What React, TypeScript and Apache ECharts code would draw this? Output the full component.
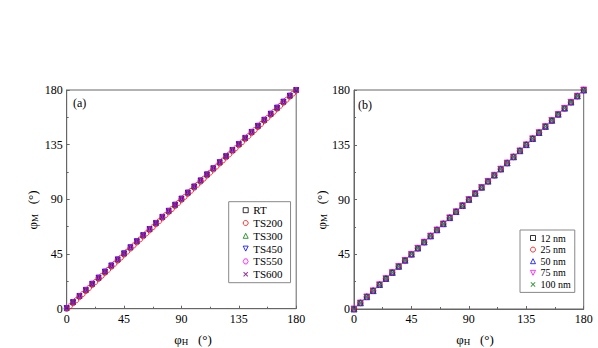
import React, { useEffect, useRef } from "react";
import * as echarts from "echarts";

// ---------- data ----------
const phiH5 = [0, 5, 10, 15, 20, 25, 30, 35, 40, 45, 50, 55, 60, 65, 70, 75, 80, 85, 90, 95, 100, 105, 110, 115, 120, 125, 130, 135, 140, 145, 150, 155, 160, 165, 170, 175, 180];
const phiH25 = [0, 2.5, 5, 7.5, 10, 12.5, 15, 17.5, 20, 22.5, 25, 27.5, 30, 32.5, 35, 37.5, 40, 42.5, 45, 47.5, 50, 52.5, 55, 57.5, 60, 62.5, 65, 67.5, 70, 72.5, 75, 77.5, 80, 82.5, 85, 87.5, 90, 92.5, 95, 97.5, 100, 102.5, 105, 107.5, 110, 112.5, 115, 117.5, 120, 122.5, 125, 127.5, 130, 132.5, 135, 137.5, 140, 142.5, 145, 147.5, 150, 152.5, 155, 157.5, 160, 162.5, 165, 167.5, 170, 172.5, 175, 177.5, 180];

// panel (a)
const RT = [0.5, 5.3, 10.3, 15.3, 20.4, 25.4, 30.4, 35.4, 40.4, 45.4, 50.4, 55.4, 60.4, 65.4, 70.4, 75.4, 80.4, 85.4, 90.4, 95.4, 100.4, 105.4, 110.4, 115.4, 120.4, 125.4, 130.4, 135.4, 140.4, 145.4, 150.4, 155.4, 160.3, 165.3, 170.3, 175.3, 180];
const TS200 = [0, 2.0, 4.5, 7.0, 9.5, 12.0, 14.5, 17.0, 19.5, 22.0, 24.5, 27.0, 29.5, 32.0, 34.5, 37.0, 39.5, 42.0, 44.5, 47.0, 49.5, 52.0, 54.5, 57.0, 59.5, 62.0, 64.5, 67.0, 69.5, 72.0, 74.5, 77.0, 79.5, 82.0, 84.5, 87.0, 89.5, 92.0, 94.5, 97.0, 99.5, 102.0, 104.5, 107.0, 109.5, 112.0, 114.5, 117.0, 119.5, 122.0, 124.5, 127.0, 129.5, 132.0, 134.5, 137.0, 139.5, 142.0, 144.5, 147.0, 149.5, 152.0, 154.5, 157.0, 159.5, 162.0, 164.5, 167.0, 169.5, 172.0, 174.5, 177.0, 179.5];
const TS300 = [0.4, 5.4, 10.4, 15.4, 20.5, 25.5, 30.5, 35.5, 40.5, 45.5, 50.5, 55.5, 60.5, 65.5, 70.5, 75.5, 80.5, 85.5, 90.5, 95.5, 100.5, 105.5, 110.5, 115.5, 120.5, 125.5, 130.5, 135.5, 140.5, 145.5, 150.5, 155.4, 160.4, 165.4, 170.4, 175.3, 180];
const TS450 = [0.5, 5.5, 10.5, 15.5, 20.5, 25.6, 30.6, 35.6, 40.6, 45.6, 50.6, 55.6, 60.6, 65.6, 70.6, 75.6, 80.6, 85.6, 90.6, 95.6, 100.6, 105.6, 110.6, 115.6, 120.6, 125.6, 130.6, 135.6, 140.6, 145.5, 150.5, 155.5, 160.5, 165.5, 170.4, 175.3, 180];
const TS550 = [0.4, 5.4, 10.4, 15.5, 20.5, 25.5, 30.5, 35.5, 40.5, 45.5, 50.5, 55.5, 60.5, 65.5, 70.5, 75.5, 80.5, 85.5, 90.5, 95.5, 100.5, 105.5, 110.5, 115.5, 120.5, 125.5, 130.5, 135.5, 140.5, 145.5, 150.5, 155.5, 160.4, 165.4, 170.4, 175.3, 180];
const TS600 = [0.5, 5.5, 10.5, 15.5, 20.5, 25.5, 30.5, 35.5, 40.5, 45.5, 50.5, 55.5, 60.5, 65.5, 70.5, 75.5, 80.5, 85.5, 90.5, 95.5, 100.5, 105.5, 110.5, 115.5, 120.5, 125.5, 130.5, 135.5, 140.5, 145.5, 150.5, 155.5, 160.5, 165.4, 170.4, 175.3, 180];

// panel (b)
const nm12 = [0, 5, 10, 15, 20, 25, 30, 35, 40, 45, 50, 55, 60, 65, 70, 75, 80, 85, 90, 95, 100, 105, 110, 115, 120, 125, 130, 135, 140, 145, 150, 155, 160, 165, 170, 175, 180];
const nm25 = [0, 5, 10, 15, 20, 25, 30, 35, 40, 45, 50, 55, 60, 65, 70, 75, 80, 85, 90, 95, 100, 105, 110, 115, 120, 125, 130, 135, 140, 145, 150, 155, 160, 165, 170, 175, 180];
const nm50 = [0, 5.1, 10.1, 15.1, 20.1, 25.1, 30.1, 35.1, 40.1, 45.1, 50.1, 55.1, 60.1, 65.1, 70.1, 75.1, 80.1, 85.1, 90.1, 95.1, 100.1, 105.1, 110.1, 115.1, 120.1, 125.1, 130.1, 135.1, 140.1, 145.1, 150.1, 155.1, 160.1, 165.1, 170.1, 175.1, 180];
const nm75 = [0, 4.9, 9.9, 14.9, 19.9, 24.9, 29.9, 34.9, 39.9, 44.9, 49.9, 54.9, 59.9, 64.9, 69.9, 74.9, 79.9, 84.9, 89.9, 94.9, 99.9, 104.9, 109.9, 114.9, 119.9, 124.9, 129.9, 134.9, 139.9, 144.9, 149.9, 154.9, 159.9, 164.9, 169.9, 174.9, 180];
const nm100 = [0, 5, 10, 15, 20, 25, 30, 35, 40, 45, 50, 55, 60, 65, 70, 75, 80, 85, 90, 95, 100, 105, 110, 115, 120, 125, 130, 135, 140, 145, 150, 155, 160, 165, 170, 175, 180];

const xTicks = [0, 45, 90, 135, 180];

const SERIF = "Liberation Serif";
const AXIS = "#666";

const SQUARE = "rect";
const CIRCLE = "circle";
const TRI_UP = "path://M0.5,0 L1,1 L0,1 Z";
const TRI_DOWN = "path://M0,0 L1,0 L0.5,1 Z";
const HEX = "path://M0.27,0 L0.73,0 L1,0.5 L0.73,1 L0.27,1 L0,0.5 Z";
const CROSS = "path://M0,0.14 L0.14,0 L0.5,0.36 L0.86,0 L1,0.14 L0.64,0.5 L1,0.86 L0.86,1 L0.5,0.64 L0.14,1 L0,0.86 L0.36,0.5 Z";

type Spec = { name: string; xs: number[]; ys: number[]; symbol: string; color: string; fill: boolean; size: number };

const seriesA: Spec[] = [
  { name: "RT", xs: phiH5, ys: RT, symbol: SQUARE, color: "#000000", fill: false, size: 4.5 },
  { name: "TS200", xs: phiH25, ys: TS200, symbol: CIRCLE, color: "#ff0000", fill: false, size: 5 },
  { name: "TS300", xs: phiH5, ys: TS300, symbol: TRI_UP, color: "#008000", fill: false, size: 5 },
  { name: "TS450", xs: phiH5, ys: TS450, symbol: TRI_DOWN, color: "#0000ff", fill: false, size: 5 },
  { name: "TS550", xs: phiH5, ys: TS550, symbol: HEX, color: "#ff00ff", fill: false, size: 5 },
  { name: "TS600", xs: phiH5, ys: TS600, symbol: CROSS, color: "#800080", fill: true, size: 5 },
];
const seriesB: Spec[] = [
  { name: "12 nm", xs: phiH5, ys: nm12, symbol: SQUARE, color: "#000000", fill: false, size: 4.5 },
  { name: "25 nm", xs: phiH5, ys: nm25, symbol: CIRCLE, color: "#ff0000", fill: false, size: 5.5 },
  { name: "50 nm", xs: phiH5, ys: nm50, symbol: TRI_UP, color: "#0000ff", fill: false, size: 6 },
  { name: "75 nm", xs: phiH5, ys: nm75, symbol: TRI_DOWN, color: "#ff00ff", fill: false, size: 6 },
  { name: "100 nm", xs: phiH5, ys: nm100, symbol: CROSS, color: "#008000", fill: true, size: 6 },
];

function styleOf(s: Spec) {
  return s.fill
    ? { color: s.color, borderWidth: 0 }
    : { color: "rgba(255,255,255,0)", borderColor: s.color, borderWidth: 1 };
}

function makeSeries(s: Spec, idx: number, clip: boolean) {
  return {
    type: "scatter",
    name: s.name,
    xAxisIndex: idx,
    yAxisIndex: idx,
    data: s.xs.map((x, i) => [x, s.ys[i]]),
    symbol: s.symbol,
    symbolSize: s.size,
    clip,
    itemStyle: styleOf(s),
    emphasis: { disabled: true },
  };
}

function legendData(list: Spec[]) {
  return list.map((s) => ({ name: s.name, icon: s.symbol, itemStyle: styleOf(s) }));
}

function axisCommon(gridIndex: number) {
  return {
    type: "value",
    gridIndex,
    min: xTicks[0],
    max: xTicks[xTicks.length - 1],
    interval: 45,
    axisLine: { show: true, lineStyle: { color: AXIS, width: 1 } },
    axisTick: { show: true, inside: true, length: 3, lineStyle: { color: AXIS } },
    minorTick: { show: true, splitNumber: 2, length: 2, lineStyle: { color: AXIS } },
    splitLine: { show: false },
    axisLabel: { margin: 4, fontFamily: SERIF, fontSize: 12, color: "#000" },
  };
}

const richSub = {
  s: { fontFamily: SERIF, fontSize: 9, color: "#000", verticalAlign: "bottom", padding: [6, 0, 0, 0] },
};

function titleText(x: number, y: number, sub: string, vertical: boolean) {
  return {
    type: "text",
    x,
    y,
    rotation: vertical ? Math.PI / 2 : 0,
    style: {
      text: "φ{s|" + sub + "}   (°)",
      fontFamily: SERIF,
      fontSize: 13,
      fill: "#000",
      align: "center",
      verticalAlign: "middle",
      rich: richSub,
    },
  };
}

export default function App() {
  const ref = useRef<HTMLDivElement>(null);
  useEffect(() => {
    if (!ref.current) return;
    const chart = echarts.init(ref.current, undefined, { renderer: "svg" });
    const legendCommon = {
      orient: "vertical",
      itemWidth: 5,
      itemHeight: 5,
      borderColor: "#888",
      borderWidth: 1,
      borderRadius: 0,
      selectedMode: false,
    };
    chart.setOption({
      animation: false,
      backgroundColor: "#fff",
      grid: [
        { left: 66.7, top: 90, width: 229.5, height: 218.7, show: true, borderColor: AXIS, borderWidth: 1, containLabel: false },
        { left: 354, top: 90, width: 229.7, height: 219, show: true, borderColor: AXIS, borderWidth: 1, containLabel: false },
      ],
      xAxis: [axisCommon(0), axisCommon(1)],
      yAxis: [axisCommon(0), axisCommon(1)],
      legend: [
        {
          ...legendCommon,
          data: legendData(seriesA),
          left: 228.7,
          top: 201.7,
          padding: [3, 8, 3, 14],
          itemGap: 1.8,
          textStyle: { fontFamily: SERIF, fontSize: 11, color: "#000", lineHeight: 11 },
        },
        {
          ...legendCommon,
          data: legendData(seriesB),
          left: 520,
          top: 230,
          padding: [3, 4, 3, 10],
          itemGap: 1.6,
          textStyle: { fontFamily: SERIF, fontSize: 10, color: "#000", lineHeight: 10 },
        },
      ],
      series: [
        ...seriesA.map((s) => makeSeries(s, 0, false)),
        ...seriesB.map((s) => makeSeries(s, 1, true)),
      ],
      graphic: [
        { type: "text", x: 73, y: 103, style: { text: "(a)", fontFamily: SERIF, fontSize: 12, fill: "#000", align: "left", verticalAlign: "middle" } },
        { type: "text", x: 358, y: 105, style: { text: "(b)", fontFamily: SERIF, fontSize: 12, fill: "#000", align: "left", verticalAlign: "middle" } },
        titleText(32, 210, "M", true),
        titleText(193, 339, "H", false),
        titleText(321, 210, "M", true),
        titleText(475, 339, "H", false),
      ],
    });
    return () => chart.dispose();
  }, []);
  return <div ref={ref} style={{ position: "fixed", left: 0, top: 0, width: 598, height: 348 }} />;
}
